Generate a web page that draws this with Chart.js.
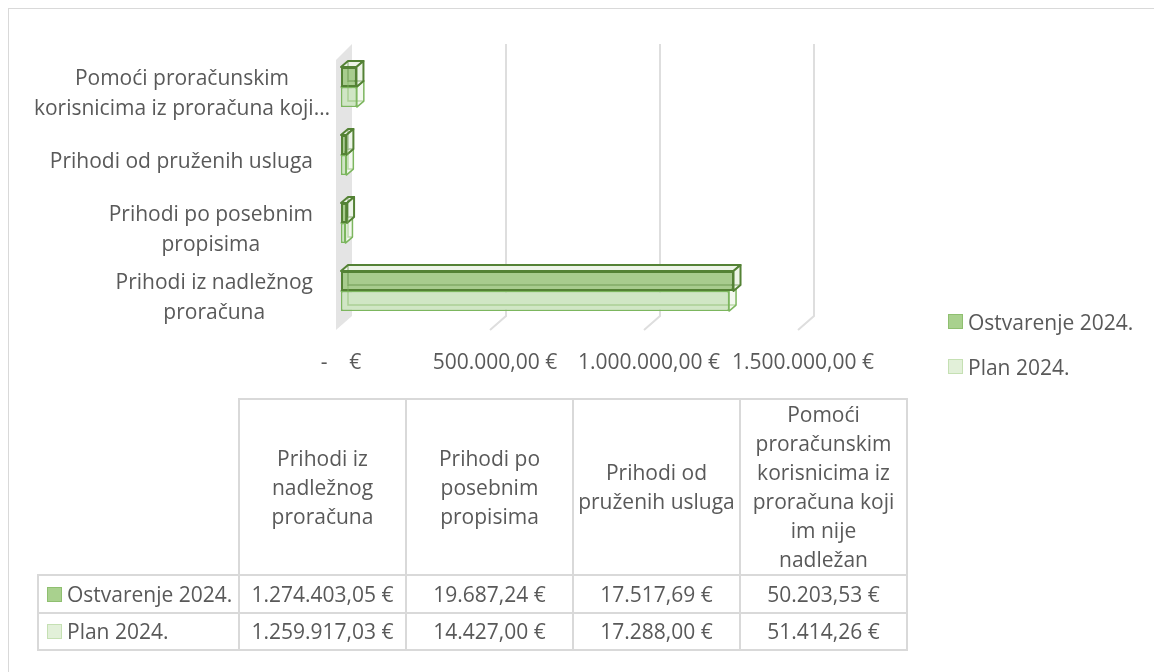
<!DOCTYPE html>
<html><head><meta charset="utf-8">
<script src="https://cdn.jsdelivr.net/npm/chart.js@4/dist/chart.umd.min.js"></script>
<style>
html,body{margin:0;padding:0;background:#fff;width:1154px;height:672px;overflow:hidden;font-family:"Open Sans",sans-serif;}
#frame{position:absolute;left:8px;top:8px;width:1300px;height:800px;border:1.5px solid #d9d9d9;box-sizing:border-box;}
#wrap{position:absolute;left:0;top:0;width:1154px;height:400px;}
#legend{position:absolute;left:948px;top:299px;}
.li{display:flex;align-items:center;height:45px;font-size:21px;color:#595959;white-space:nowrap;}
.sw{width:13px;height:13px;border:1px solid;margin-right:5px;box-sizing:content-box;}
#tbl{position:absolute;left:37px;top:398px;border-collapse:collapse;font-size:21px;color:#595959;table-layout:fixed;}
#tbl td{border:2px solid #d9d9d9;text-align:center;padding:0;line-height:29px;white-space:nowrap;}
#tbl td.first{text-align:left;padding-left:8px;}
#tbl td.first .in{display:flex;align-items:center;}
#tbl td.blank{border-top:none;border-left:none;}
</style>
</head><body>
<div id="frame"></div>
<div id="wrap"><canvas id="c" width="1154" height="400"></canvas></div>
<div id="legend"></div>
<table id="tbl"></table>
<script>
// ---- data ----
const categories = [
  'Prihodi iz nadležnog proračuna',
  'Prihodi po posebnim propisima',
  'Prihodi od pruženih usluga',
  'Pomoći proračunskim korisnicima iz proračuna koji im nije nadležan'
];
const axisLabelLines = [
  ['Prihodi iz nadležnog', 'proračuna'],
  ['Prihodi po posebnim', 'propisima'],
  ['Prihodi od pruženih usluga'],
  ['Pomoći proračunskim', 'korisnicima iz proračuna koji…']
];
const tableHeaderLines = [
  ['Prihodi iz', 'nadležnog', 'proračuna'],
  ['Prihodi po', 'posebnim', 'propisima'],
  ['Prihodi od', 'pruženih usluga'],
  ['Pomoći', 'proračunskim', 'korisnicima iz', 'proračuna koji', 'im nije', 'nadležan']
];
const seriesNames = ['Ostvarenje 2024.', 'Plan 2024.'];
const ostvarenje2024 = [1274403.05, 19687.24, 17517.69, 50203.53];
const plan2024 = [1259917.03, 14427.00, 17288.00, 51414.26];
const xTickValues = [0, 500000, 1000000, 1500000];
const xTickLabels = ['-    €', '500.000,00 €', '1.000.000,00 €', '1.500.000,00 €'];

// ---- styles / layout ----
const FONT = '"Open Sans", sans-serif';
const TXT = '#595959';
const fills = ['#a8cc8e', '#d0e6c5'];
const borders = ['#548235', '#7cb65e'];
const faceFills = ['#edf4e8', '#f3f8ef'];
const swatchFill = ['#a9d18e', '#e2f0d9'];
const swatchBorder = ['#8fbf70', '#c5e0b3'];
const labelRightEdge = [313, 313, 313, 330]; // per category (table order)

function fmt(v){
  const [i,d] = v.toFixed(2).split('.');
  return i.replace(/\B(?=(\d{3})+(?!\d))/g, '.') + ',' + d + ' €';
}

// ---- legend ----
const leg = document.getElementById('legend');
seriesNames.forEach((n,i)=>{
  const d = document.createElement('div'); d.className='li';
  d.innerHTML = '<span class="sw" style="background:'+swatchFill[i]+';border-color:'+swatchBorder[i]+'"></span>'+n;
  leg.appendChild(d);
});

// ---- table ----
const tbl = document.getElementById('tbl');
const colW = [201,167,167,167,167];
const cg = document.createElement('colgroup');
colW.forEach(w=>{const c=document.createElement('col'); c.style.width=w+'px'; cg.appendChild(c);});
tbl.appendChild(cg);
let tr = document.createElement('tr'); tr.style.height='175px';
let td = document.createElement('td'); td.className='blank'; tr.appendChild(td);
tableHeaderLines.forEach(lines=>{const c=document.createElement('td'); c.innerHTML=lines.join('<br>'); tr.appendChild(c);});
tbl.appendChild(tr);
[ostvarenje2024, plan2024].forEach((arr,si)=>{
  const r = document.createElement('tr'); r.style.height = (si===0?'38px':'37px');
  const f = document.createElement('td'); f.className='first';
  f.innerHTML = '<div class="in"><span class="sw" style="background:'+swatchFill[si]+';border-color:'+swatchBorder[si]+'"></span>'+seriesNames[si]+'</div>';
  r.appendChild(f);
  arr.forEach(v=>{const c=document.createElement('td'); c.textContent=fmt(v); r.appendChild(c);});
  tbl.appendChild(r);
});

// ---- chart ----
const chartLabels = categories.slice().reverse();
const chartAxisLines = axisLabelLines.slice().reverse();
const chartLabelRight = labelRightEdge.slice().reverse();
const seriesData = [ostvarenje2024.slice().reverse(), plan2024.slice().reverse()];

const DX = 7, DY = -6;      // bar depth
const GX = 11, GY = -9;     // back plane offset
const FX = -5, FY = 5;      // floor front offset

const threeD = {
  id: 'threeD',
  beforeDatasetsDraw(chart){
    const {ctx, chartArea: ca, scales: {x}} = chart;
    const x0 = x.getPixelForValue(0);
    ctx.save();
    ctx.fillStyle = '#e4e4e4';
    ctx.beginPath();
    ctx.moveTo(x0+FX, ca.top+FY+2);
    ctx.lineTo(x0+GX, ca.top+GY);
    ctx.lineTo(x0+GX, ca.bottom+GY);
    ctx.lineTo(x0+FX, ca.bottom+FY);
    ctx.closePath(); ctx.fill();
    ctx.strokeStyle = '#dedede'; ctx.lineWidth = 2;
    xTickValues.slice(1).forEach(v=>{
      const p = x.getPixelForValue(v);
      ctx.beginPath();
      ctx.moveTo(p+GX, ca.top+GY);
      ctx.lineTo(p+GX, ca.bottom+GY);
      ctx.lineTo(p+FX, ca.bottom+FY);
      ctx.stroke();
    });
    [1,0].forEach(di=>{
      const meta = chart.getDatasetMeta(di);
      meta.data.forEach(el=>{
        const p = el.getProps(['x','y','base','height'], true);
        const xl = Math.min(p.base,p.x), xr = Math.max(p.base,p.x);
        const y0 = p.y - p.height/2, y1 = p.y + p.height/2;
        ctx.fillStyle = faceFills[di]; ctx.strokeStyle = borders[di]; ctx.lineWidth = di===0?2:1.5;
        ctx.lineJoin = 'round';
        ctx.beginPath();
        ctx.moveTo(xl, y0); ctx.lineTo(xl+DX, y0+DY); ctx.lineTo(xr+DX, y0+DY); ctx.lineTo(xr, y0); ctx.closePath();
        ctx.fill(); ctx.stroke();
        ctx.beginPath();
        ctx.moveTo(xr, y0); ctx.lineTo(xr+DX, y0+DY); ctx.lineTo(xr+DX, y1+DY); ctx.lineTo(xr, y1); ctx.closePath();
        ctx.fill(); ctx.stroke();
      });
    });
    ctx.restore();
  },
  afterDatasetsDraw(chart){
    const {ctx} = chart;
    ctx.save();
    [1,0].forEach(di=>{
      const meta = chart.getDatasetMeta(di);
      meta.data.forEach(el=>{
        const p = el.getProps(['x','y','base','height'], true);
        const xl = Math.min(p.base,p.x), xr = Math.max(p.base,p.x);
        const y0 = p.y - p.height/2, y1 = p.y + p.height/2;
        ctx.strokeStyle = borders[di]; ctx.globalAlpha = 0.45; ctx.lineWidth = 1.5;
        ctx.beginPath();
        ctx.moveTo(xl+DX, y0+DY); ctx.lineTo(xl+DX, y1+DY); ctx.lineTo(xr+DX, y1+DY);
        ctx.stroke();
      });
    });
    ctx.restore();
  },
  afterDraw(chart){
    const {ctx, scales: {y}} = chart;
    ctx.save();
    ctx.font = '21px ' + FONT;
    ctx.fillStyle = TXT;
    ctx.textAlign = 'center';
    ctx.textBaseline = 'middle';
    const lh = 30;
    chartAxisLines.forEach((lines,i)=>{
      const yc = y.getPixelForTick(i) + 7;
      const w = Math.max(...lines.map(l=>ctx.measureText(l).width));
      const cx = chartLabelRight[i] - w/2;
      lines.forEach((l,j)=>{
        ctx.fillText(l, cx, yc + (j - (lines.length-1)/2)*lh);
      });
    });
    ctx.restore();
  }
};

new Chart(document.getElementById('c'), {
  type: 'bar',
  data: {
    labels: chartLabels,
    datasets: seriesNames.map((n,i)=>({
      label: n,
      data: seriesData[i],
      backgroundColor: fills[i],
      borderColor: borders[i],
      borderWidth: i===0?2:1.5,
      borderSkipped: false,
      categoryPercentage: 0.59,
      barPercentage: 1
    }))
  },
  options: {
    indexAxis: 'y',
    responsive: false,
    animation: false,
    layout: {padding: {left: 0, right: 351, top: 53, bottom: 0}},
    plugins: {legend: {display: false}, tooltip: {enabled: false}},
    scales: {
      x: {
        min: 0, max: 1500000,
        afterBuildTicks(s){ s.ticks = xTickValues.map(v=>({value:v})); },
        afterFit(s){ s.height = 75; },
        ticks: {
          callback: (v,i)=>xTickLabels[i],
          font: {family: FONT, size: 21}, color: TXT, padding: 17, maxRotation: 0, autoSkip: false
        },
        grid: {display: false},
        border: {display: false}
      },
      y: {
        afterFit(s){ s.width = 341; },
        ticks: {display: false},
        grid: {display: false},
        border: {display: false}
      }
    }
  },
  plugins: [threeD]
});
</script>
</body></html>
